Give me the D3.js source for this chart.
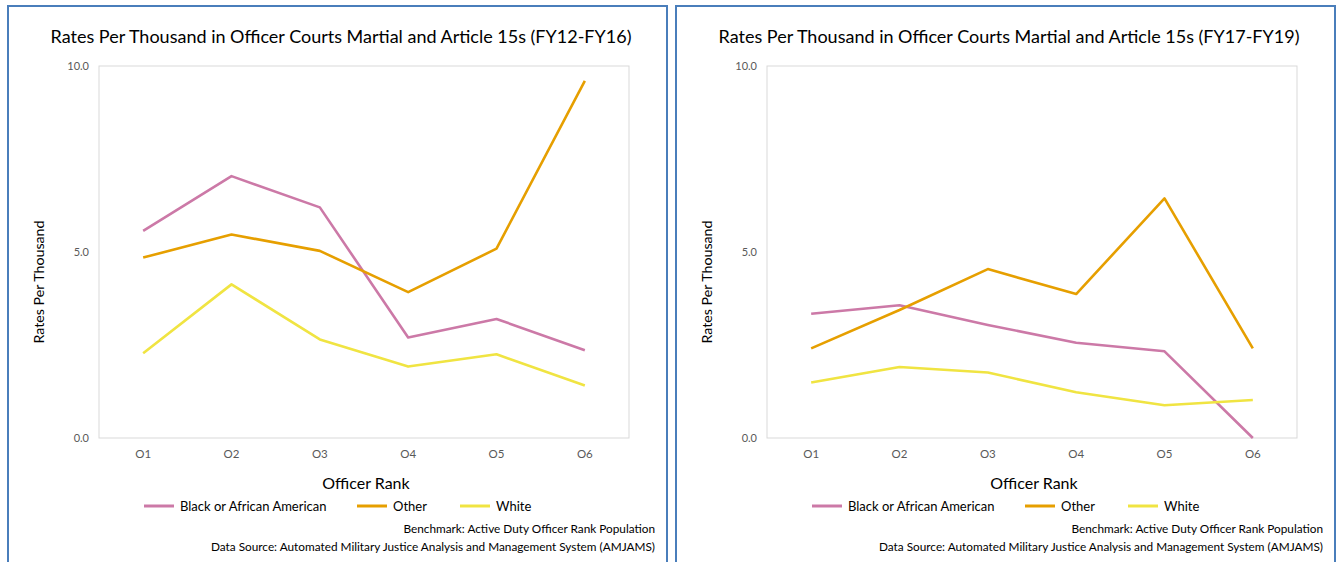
<!DOCTYPE html>
<html><head><meta charset="utf-8">
<script src="https://cdn.jsdelivr.net/npm/d3@7"></script>
<style>
body{margin:0;background:#fff;}
svg{display:block;font-family:Lato,"Open Sans",sans-serif;}
</style></head>
<body><svg id="c" width="1343" height="562"></svg>
<script>
const ranks = ["O1","O2","O3","O4","O5","O6"];
const seriesNames = ["Black or African American","Other","White"];
const seriesColors = ["#cc79a7","#e69f00","#f0e442"];
const yTicks = [0,5,10];
const titles = ["Rates Per Thousand in Officer Courts Martial and Article 15s (FY12-FY16)",
                "Rates Per Thousand in Officer Courts Martial and Article 15s (FY17-FY19)"];
// FY12-FY16
const blackA = [5.57,7.04,6.20,2.70,3.20,2.36];
const otherA = [4.85,5.47,5.03,3.92,5.09,9.60];
const whiteA = [2.28,4.13,2.65,1.92,2.25,1.41];
// FY17-FY19
const blackB = [3.34,3.57,3.04,2.56,2.33,0.00];
const otherB = [2.41,3.44,4.54,3.87,6.44,2.41];
const whiteB = [1.49,1.91,1.76,1.23,0.88,1.02];
const footer1 = "Benchmark: Active Duty Officer Rank Population";
const footer2 = "Data Source: Automated Military Justice Analysis and Management System (AMJAMS)";

const panels = [
  {dx:0, title:titles[0], data:[blackA,otherA,whiteA]},
  {dx:668, title:titles[1], data:[blackB,otherB,whiteB]}
];
const svg = d3.select("#c");

panels.forEach(p=>{
  const g = svg.append("g").attr("transform",`translate(${p.dx},0)`);
  g.append("rect").attr("x",8).attr("y",6).attr("width",659).attr("height",570)
    .attr("fill","#fff").attr("stroke","#4a7ebb").attr("stroke-width",2);
  const x0=99,x1=629,y0=438,y1=66;
  const x = d3.scaleBand().domain(ranks).range([x0,x1]);
  const y = d3.scaleLinear().domain([0,10]).range([y0,y1]);
  g.append("rect").attr("x",x0).attr("y",y1).attr("width",x1-x0).attr("height",y0-y1)
    .attr("fill","none").attr("stroke","#d9d9d9").attr("stroke-width",1);
  g.append("text").attr("x",341).attr("y",43).attr("text-anchor","middle")
    .attr("font-size",18).attr("fill","#000").text(p.title);
  const ya = g.append("g").attr("transform",`translate(${x0},0)`)
    .call(d3.axisLeft(y).tickValues(yTicks).tickFormat(d3.format(".1f")).tickSize(0).tickPadding(10));
  ya.select(".domain").remove();
  ya.selectAll("text").attr("font-size",11).attr("fill","#595959").attr("font-family","Lato,sans-serif");
  const xa = g.append("g").attr("transform",`translate(0,${y0})`)
    .call(d3.axisBottom(x).tickSize(0).tickPadding(12));
  xa.select(".domain").remove();
  xa.selectAll("text").attr("font-size",11.5).attr("fill","#595959").attr("font-family","Lato,sans-serif");
  g.append("text").attr("transform","translate(44,282) rotate(-90)").attr("text-anchor","middle")
    .attr("font-size",14.2).attr("fill","#000").text("Rates Per Thousand");
  g.append("text").attr("x",366).attr("y",489).attr("text-anchor","middle")
    .attr("font-size",16).attr("fill","#000").text("Officer Rank");
  const line = d3.line().x((d,i)=>x(ranks[i])+x.bandwidth()/2).y(d=>y(d));
  p.data.forEach((s,k)=>{
    g.append("path").datum(s).attr("d",line).attr("fill","none")
      .attr("stroke",seriesColors[k]).attr("stroke-width",2.6).attr("stroke-linejoin","round");
  });
  const legX = [144,357,460];
  seriesNames.forEach((n,k)=>{
    g.append("line").attr("x1",legX[k]).attr("x2",legX[k]+30).attr("y1",506).attr("y2",506)
      .attr("stroke",seriesColors[k]).attr("stroke-width",3);
    g.append("text").attr("x",legX[k]+36).attr("y",511).attr("font-size",13).attr("fill","#000").text(n);
  });
  g.append("text").attr("x",655).attr("y",533).attr("text-anchor","end").attr("font-size",11.8).attr("fill","#000").text(footer1);
  g.append("text").attr("x",655).attr("y",551).attr("text-anchor","end").attr("font-size",11.8).attr("fill","#000").text(footer2);
});
</script></body></html>
